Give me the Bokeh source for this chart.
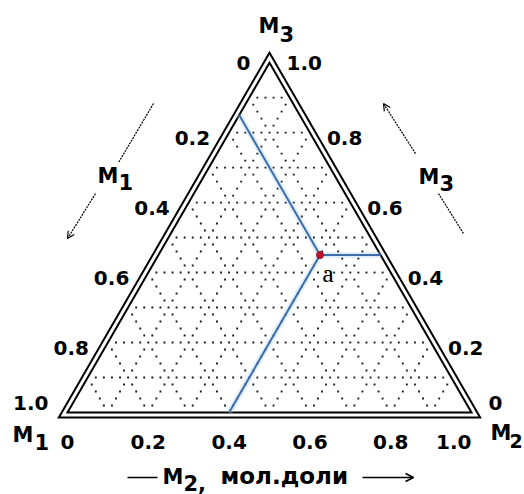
import numpy as np
from bokeh.plotting import figure
from bokeh.models import Range1d, Arrow, OpenHead
from bokeh.core.properties import value
from bokeh.embed import file_html
from bokeh.resources import INLINE

# Mole-fraction scale shared by the three sides
tick_values = [0.0, 0.2, 0.4, 0.6, 0.8, 1.0]
tick_labels = ["0", "0.2", "0.4", "0.6", "0.8", "1.0"]

# Composition of point "a": M1, M2, M3 mole fractions
point_a = (0.15, 0.40, 0.45)
point_name = "a"

grid_step = 0.1   # dotted grid lines
dot_step = 0.02   # dot pitch along grid lines

# Component names and axis caption
comp_letter = "M"
axis_caption = "мол.доли"

H = np.sqrt(3) / 2


def tern(m1, m2, m3):
    """Ternary composition -> cartesian (M1 bottom-left, M2 bottom-right, M3 top)."""
    return m2 + m3 / 2.0, m3 * H


# layout: pixels per unit side and pixel position of the M1 corner
PX = 404.0
X0, Y0 = 67, 412
W, HT = 524, 494


def at(pt, dx, dy):
    """Shift a data point by screen pixels (dy positive = down)."""
    return pt[0] + dx / PX, pt[1] - dy / PX


p = figure(width=W, height=HT,
           x_range=Range1d(-X0 / PX, (W - X0) / PX),
           y_range=Range1d((Y0 - HT) / PX, Y0 / PX),
           output_backend="svg", toolbar_location=None,
           x_axis_type=None, y_axis_type=None, min_border=0,
           outline_line_color=None,
           background_fill_color="white", border_fill_color="white")

FONT = value("DejaVu Sans")
BLACK = "#000000"

# ---- dotted composition grid -------------------------------------------
n = int(round(1 / dot_step))
k_grid = int(round(grid_step / dot_step))
gx, gy = [], []
for i in range(n + 1):
    for j in range(n + 1 - i):
        k = n - i - j
        if 0 in (i, j, k):
            continue
        if i % k_grid and j % k_grid and k % k_grid:
            continue
        x, y = tern(i / n, j / n, k / n)
        gx.append(x)
        gy.append(y)
p.scatter(gx, gy, marker="square", size=1.9, fill_color=BLACK,
          line_color=None, fill_alpha=0.9)

# ---- double triangle frame ---------------------------------------------
V1, V2, V3 = tern(1, 0, 0), tern(0, 1, 0), tern(0, 0, 1)
d = 5 / PX
s3 = np.sqrt(3)
inner_x = [V1[0], V2[0], V3[0], V1[0]]
inner_y = [V1[1], V2[1], V3[1], V1[1]]
outer_x = [V1[0] - d * s3, V2[0] + d * s3, V3[0], V1[0] - d * s3]
outer_y = [V1[1] - d, V2[1] - d, V3[1] + 2 * d, V1[1] - d]
for xs, ys in ((inner_x, inner_y), (outer_x, outer_y)):
    p.patch(xs, ys, fill_color=None, line_color=BLACK, line_width=2,
            line_join="miter")

# ---- point a and its three composition lines ---------------------------
m1, m2, m3 = point_a
pa = tern(m1, m2, m3)
ends = [tern(m1, 0, 1 - m1),      # constant M1 -> M1/M3 side
        tern(1 - m2, m2, 0),      # constant M2 -> M1/M2 side
        tern(0, 1 - m3, m3)]      # constant M3 -> M2/M3 side
x0s = [pa[0]] * 3
y0s = [pa[1]] * 3
x1s = [e[0] for e in ends]
y1s = [e[1] for e in ends]
p.segment(x0s, y0s, x1s, y1s, line_color="#a9d0f2", line_width=6, line_alpha=0.35)
p.segment(x0s, y0s, x1s, y1s, line_color="#3d6eab", line_width=2)
p.scatter([pa[0]], [pa[1]], size=7, fill_color="#c0142c", line_color="#9a0f22")
la = at(pa, 8, 18)
p.text([la[0]], [la[1]], text=[point_name], text_font=value("Liberation Serif"),
       text_font_size="26px", text_align="center", text_baseline="middle",
       text_color=BLACK)


def labels(xs, ys, texts, align, size="20px"):
    p.text(xs, ys, text=texts, text_font=FONT, text_font_style="bold",
           text_font_size=size, text_align=align, text_baseline="middle",
           text_color=BLACK)


# ---- tick labels on the three sides ------------------------------------
def side_offset(v_anchor):
    # vertical nudge: bottom corners sit higher, apex level, others lower
    if abs(v_anchor[1]) < 1e-9:
        return -10
    if abs(v_anchor[1] - H) < 1e-9:
        return 0
    return 5


# M1 along the left side (0 at apex, 1.0 at bottom-left)
lx, ly = [], []
for t in tick_values:
    a = tern(t, 0, 1 - t)
    q = at(a, -19, side_offset(a))
    lx.append(q[0]); ly.append(q[1])
labels(lx, ly, tick_labels, "right")

# M3 along the right side (1.0 at apex, 0 at bottom-right)
rx, ry = [], []
for s in tick_values:
    a = tern(0, 1 - s, s)
    q = at(a, 17, side_offset(a))
    rx.append(q[0]); ry.append(q[1])
labels(rx, ry, tick_labels, "left")

# M2 along the base; the last label is tucked left of the M2 corner name
bx, by = [], []
for v in tick_values:
    q = at(tern(1 - v, v, 0), 0, 29)
    bx.append(q[0]); by.append(q[1])
labels(bx[:-1], by[:-1], tick_labels[:-1], "center")
labels(bx[-1:], by[-1:], tick_labels[-1:], "right")


# ---- component names with subscripts -----------------------------------
def comp(anchor, m_off, sub_off, sub, sub_size="21px"):
    mp = at(anchor, *m_off)
    sp = at(anchor, *sub_off)
    labels([mp[0]], [mp[1]], [comp_letter], "left", "21px")
    labels([sp[0]], [sp[1]], [sub], "left", sub_size)


comp(V1, (-55, 22), (-33, 29), "1")
comp(V2, (19, 20), (38, 28), "2", "19px")
comp(V3, (-11, -37), (10, -29), "3")

# side captions with direction arrows
L = tern(0.5, 0, 0.5)
R = tern(0, 0.5, 0.5)
B = tern(0.5, 0.5, 0)
comp(L, (-71, -62), (-50, -56), "1")
comp(R, (48, -61), (69, -55), "3")


def seg(anchor, s_off, e_off, dash="2 1", width=1.2):
    a0 = at(anchor, *s_off)
    a1 = at(anchor, *e_off)
    p.segment([a0[0]], [a0[1]], [a1[0]], [a1[1]], line_color=BLACK,
              line_width=width, line_dash=dash)


def arrow(anchor, s_off, e_off, dash="2 1", width=1.2, size=7):
    a0 = at(anchor, *s_off)
    a1 = at(anchor, *e_off)
    p.add_layout(Arrow(x_start=a0[0], y_start=a0[1], x_end=a1[0], y_end=a1[1],
                       line_color=BLACK, line_width=width, line_dash=dash,
                       end=OpenHead(size=size, line_width=width, line_color=BLACK)))


seg(L, (-15, -134), (-50, -75))
arrow(L, (-73, -44), (-101, 1))
arrow(R, (45, -84), (13, -134))
seg(R, (68, -44), (93, -4))

# base caption: "— M2, мол.доли —>"
seg(B, (-142, 65), (-112, 65), dash="solid", width=1.5)
arrow(B, (93, 65), (144, 65), dash="solid", width=1.5, size=8)
mp = at(B, -107, 64)
labels([mp[0]], [mp[1]], [comp_letter], "left", "21px")
sp = at(B, -86, 70)
labels([sp[0]], [sp[1]], ["2,"], "left", "21px")
cp = at(B, -49, 63)
labels([cp[0]], [cp[1]], [axis_caption], "left", "23px")

open("out.html", "w").write(file_html(p, INLINE))
